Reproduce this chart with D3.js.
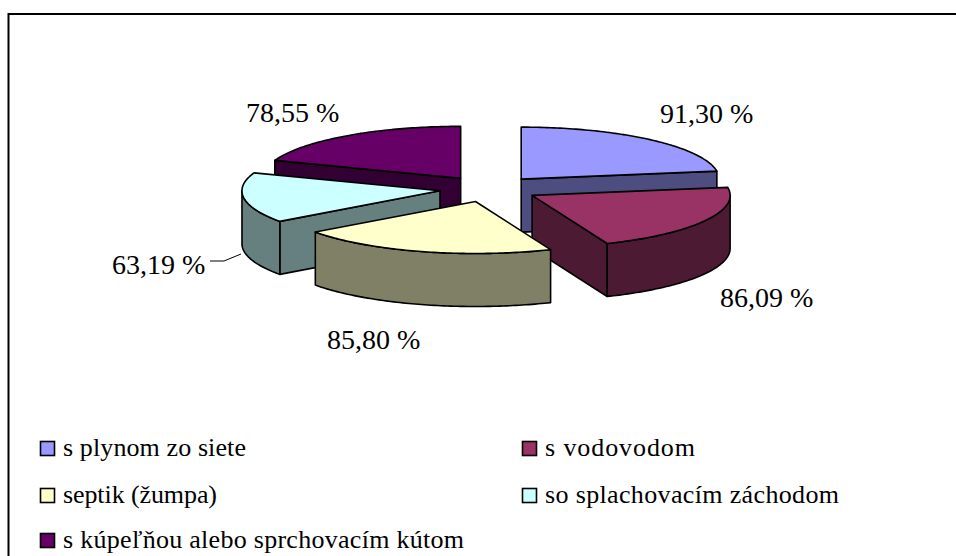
<!DOCTYPE html>
<html>
<head>
<meta charset="utf-8">
<script src="https://cdn.jsdelivr.net/npm/d3@7"></script>
<style>
html, body { margin: 0; padding: 0; background: #fff; }
svg { display: block; }
text { font-family: "Liberation Serif", serif; fill: #000; }
</style>
</head>
<body>
<div class="chart"></div>
<script>
const categories = ["s plynom zo siete", "s vodovodom", "septik (žumpa)", "so splachovacím záchodom", "s kúpeľňou alebo sprchovacím kútom"];
const values = [91.30, 86.09, 85.80, 63.19, 78.55];
const topColors = ["#9999FF", "#993366", "#FFFFCC", "#CCFFFF", "#660066"];
const sideColors = ["#4D4D80", "#4D1A33", "#808066", "#668080", "#330033"];

const width = 956;
const height = 556;
const cx = 489;
const cy = 189;
const rx = 198;
const ry = 52;
const depth = 53;
const explode = 0.25;

// label position for each slice, x is left edge of the text, y the baseline
const labelPos = [[660, 123], [720, 307], [327, 349], [112, 274], [246, 122]];

const svg = d3.select(".chart")
    .append("svg")
    .attr("width", width)
    .attr("height", height);

// chart frame, only top and left edges are in the picture
svg.append("path")
    .attr("d", "M8.5," + height + "V14H" + width)
    .attr("fill", "none")
    .attr("stroke", "#000")
    .attr("stroke-width", 2);

const slices = d3.pie().sort(null).value(d => d)(values);

const xPos = d3.scaleLinear().domain([-1, 1]).range([-rx, rx]);
const yPos = d3.scaleLinear().domain([-1, 1]).range([-ry, ry]);

// angle is clockwise from 12 o'clock
function rim(a, r) {
    return [xPos(Math.sin(a) * r), yPos(-Math.cos(a) * r)];
}

function sweep(a0, a1) {
    const n = Math.max(2, Math.ceil((a1 - a0) * 60));
    return d3.range(n + 1).map(i => a0 + (a1 - a0) * i / n);
}

const line = d3.line();

function down(p) {
    return [p[0], p[1] + depth];
}

// back slices first, the front ones cover them
const order = [4, 0, 3, 1, 2];

const g = svg.append("g")
    .attr("transform", "translate(" + cx + "," + cy + ")");

order.forEach(function (i) {
    const s = slices[i];
    const mid = (s.startAngle + s.endAngle) / 2;
    const c = rim(mid, explode);
    const slice = g.append("g")
        .attr("transform", "translate(" + c[0] + "," + c[1] + ")")
        .attr("stroke", "#000")
        .attr("stroke-width", 1.6)
        .attr("stroke-linejoin", "round");

    const apex = [0, 0];

    // straight cut faces
    const cuts = [];
    if (Math.sin(s.startAngle) < -0.001) cuts.push(s.startAngle);
    if (Math.sin(s.endAngle) > 0.001) cuts.push(s.endAngle);
    cuts.forEach(function (a) {
        const p = rim(a, 1);
        slice.append("path")
            .attr("d", line([apex, p, down(p), down(apex)]) + "Z")
            .attr("fill", sideColors[i]);
    });

    // outer wall, only the front half of the ellipse shows
    const a0 = Math.max(s.startAngle, Math.PI / 2);
    const a1 = Math.min(s.endAngle, Math.PI * 1.5);
    if (a1 > a0) {
        const upper = sweep(a0, a1).map(a => rim(a, 1));
        const lower = upper.map(down).reverse();
        slice.append("path")
            .attr("d", line(upper.concat(lower)) + "Z")
            .attr("fill", sideColors[i]);
    }

    // top
    const top = sweep(s.startAngle, s.endAngle).map(a => rim(a, 1));
    slice.append("path")
        .attr("d", line([apex].concat(top)) + "Z")
        .attr("fill", topColors[i]);
});

// percent labels
svg.append("g")
    .selectAll("text")
    .data(values)
    .enter()
    .append("text")
    .attr("x", (d, i) => labelPos[i][0])
    .attr("y", (d, i) => labelPos[i][1])
    .attr("font-size", 28)
    .text(d => d.toFixed(2).replace(".", ",") + " %");

// leader line for the cyan slice
svg.append("path")
    .attr("d", "M210,261H224L241,254")
    .attr("fill", "none")
    .attr("stroke", "#000")
    .attr("stroke-width", 1);

// legend, two columns
const legendX = [40, 522];
const legendY = [441, 488, 533];
// the legend text runs wider than the font's own spacing
const legendTextWidth = [183, 150, 154, 294, 401];

const legend = svg.append("g")
    .selectAll("g")
    .data(categories)
    .enter()
    .append("g")
    .attr("transform", (d, i) => "translate(" + legendX[i % 2] + "," + legendY[Math.floor(i / 2)] + ")");

legend.append("rect")
    .attr("x", 0.5)
    .attr("y", 0.5)
    .attr("width", 14)
    .attr("height", 14)
    .attr("fill", (d, i) => topColors[i])
    .attr("stroke", "#000")
    .attr("stroke-width", 1.6);

legend.append("text")
    .attr("x", 23)
    .attr("y", 15)
    .attr("font-size", 26)
    .attr("textLength", (d, i) => legendTextWidth[i])
    .attr("lengthAdjust", "spacing")
    .text(d => d);
</script>
</body>
</html>
